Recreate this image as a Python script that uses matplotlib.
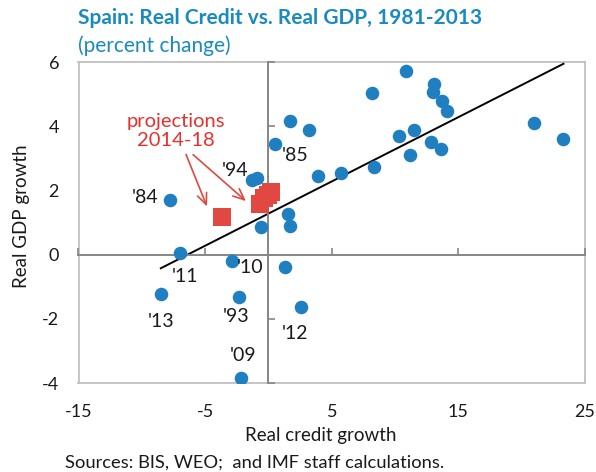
import numpy as np
import matplotlib
matplotlib.use("Agg")
import matplotlib.pyplot as plt

plt.rcParams['font.family'] = ['Lato', 'DejaVu Sans']
plt.rcParams['axes.unicode_minus'] = False

# Historical data 1981-2013 (real credit growth, real GDP growth)
credit = [10.9, 13.1, 13.0, 13.7, 14.1, 8.2, 21.0, 23.3, 1.7, 3.2,
          0.5, 10.3, 11.5, 12.8, 13.6, 11.2, 8.3, 5.7, 3.9, 1.55,
          -1.3, -0.9, -7.8, 1.7, -0.6, -7.0, -2.9, 1.3, -8.5, -2.35,
          2.6, -2.15]
gdp = [5.73, 5.31, 5.07, 4.77, 4.48, 5.03, 4.10, 3.61, 4.15, 3.87,
       3.44, 3.69, 3.88, 3.50, 3.28, 3.11, 2.72, 2.54, 2.44, 1.28,
       2.33, 2.40, 1.70, 0.89, 0.87, 0.06, -0.19, -0.40, -1.22, -1.31,
       -1.63, -3.84]
# labelled years: index -> label
year_labels = {22: "'84", 10: "'85", 20: "'94", 25: "'11", 26: "'10",
               28: "'13", 29: "'93", 30: "'12", 31: "'09"}
label_offsets = {22: (-18, 2), 10: (15, -8.5), 20: (-12, 6.5), 25: (3.6, -17.5),
                 26: (13.5, -5), 28: (0, -20), 29: (-2, -14), 30: (-4.5, -19),
                 31: (1.5, 16)}

# Projections 2014-18
proj_credit = [-3.7, -0.7, -0.35, 0.0, 0.2]
proj_gdp = [1.17, 1.57, 1.75, 1.85, 1.95]

xticks = [-15, -5, 5, 15, 25]
yticks = [-4, -2, 0, 2, 4, 6]

blue = '#1f7fc1'
red = '#e04841'
title_col = '#1a8bbf'
txt = '#1a1a1a'

fig = plt.figure(figsize=(5.96, 4.72), dpi=100)
pos = [78.5 / 596, 89 / 472, 506.5 / 596, 321 / 472]

# frame axes with outer tick labels
axf = fig.add_axes(pos)
axf.set_xlim(-15, 25)
axf.set_ylim(-4, 6)
axf.set_xticks(xticks)
axf.set_yticks(yticks)
axf.tick_params(length=0, labelsize=13, colors=txt)
axf.tick_params(axis='x', pad=15)
axf.tick_params(axis='y', pad=14)
for s in axf.spines.values():
    s.set_color('#c0c0c0')
    s.set_linewidth(1.3)

# data axes with crossing axes at zero
ax = fig.add_axes(pos)
ax.patch.set_alpha(0)
ax.set_xlim(-15, 25)
ax.set_ylim(-4, 6)
ax.set_xticks(xticks)
ax.set_yticks(yticks)
ax.spines['left'].set_position(('data', 0))
ax.spines['bottom'].set_position(('data', 0))
for k in ['left', 'bottom']:
    ax.spines[k].set_color('#868686')
    ax.spines[k].set_linewidth(1.4)
for k in ['right', 'top']:
    ax.spines[k].set_visible(False)
ax.tick_params(direction='in', length=5, width=1.2, colors='#868686',
               labelleft=False, labelbottom=False)

# trendline fitted on historical data
slope, intercept = np.polyfit(credit, gdp, 1)
xr = np.array([min(credit), max(credit)])
ax.plot(xr, slope * xr + intercept, color='black', lw=1.4, zorder=2)

ax.scatter(credit, gdp, s=95, color=blue, zorder=3, linewidths=0)
ax.scatter(proj_credit, proj_gdp, s=150, marker='s', color=red, zorder=4, linewidths=0)

for i, lab in year_labels.items():
    ax.annotate(lab, (credit[i], gdp[i]), xytext=label_offsets[i],
                textcoords='offset points', ha='center', va='center',
                fontsize=14, color=txt, zorder=5)

ax.text(-7.28, 3.85, 'projections\n2014-18', color='#e8302c', fontsize=14.5,
        ha='center', va='center', linespacing=1.12)
arrowprops = dict(arrowstyle='->,head_length=0.8,head_width=0.35', color=red, lw=1.2)
ax.annotate('', xy=(-4.77, 1.42), xytext=(-6.59, 3.20), arrowprops=arrowprops)
ax.annotate('', xy=(-1.61, 1.61), xytext=(-6.11, 3.17), arrowprops=arrowprops)

fig.text(320.5 / 596, 1 - 435 / 472, 'Real credit growth', fontsize=13.5,
         color=txt, ha='center', va='center')
fig.text(22 / 596, 1 - 216 / 472, 'Real GDP growth', fontsize=13.5,
         color=txt, ha='center', va='center', rotation=90)
fig.text(78 / 596, 1 - 18 / 472, 'Spain: Real Credit vs. Real GDP, 1981-2013',
         fontsize=15, fontweight='bold', color=title_col, ha='left', va='center')
fig.text(78 / 596, 1 - 46 / 472, '(percent change)', fontsize=15,
         color=title_col, ha='left', va='center')
fig.text(65 / 596, 1 - 463 / 472, 'Sources: BIS, WEO;  and IMF staff calculations.',
         fontsize=13.2, color=txt, ha='left', va='center')

fig.savefig('out.png', dpi=100)
